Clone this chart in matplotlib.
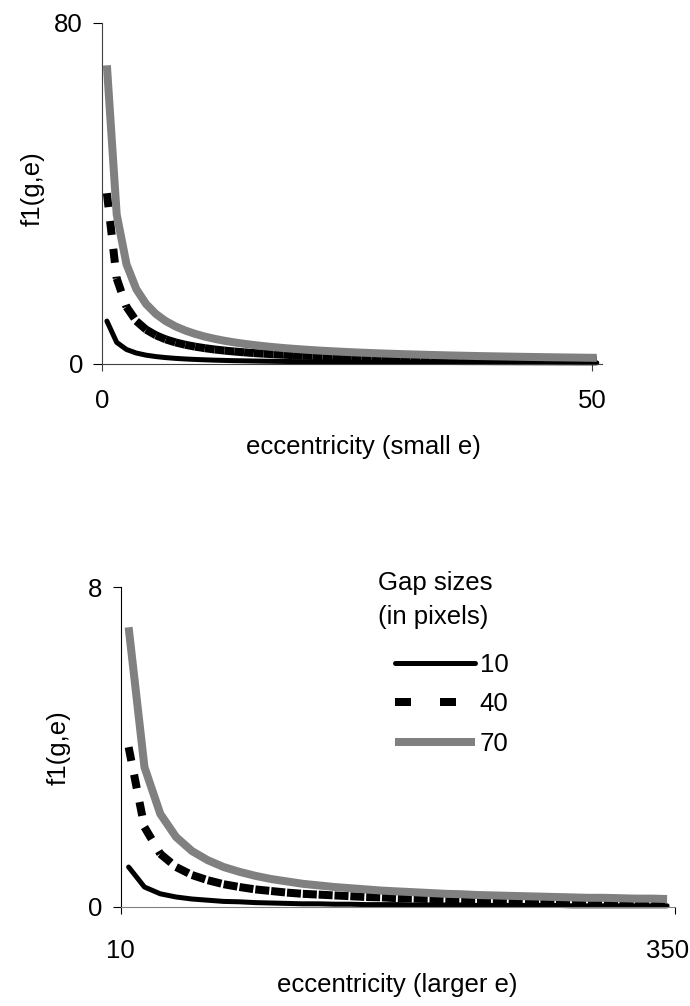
"""f1(g,e) against eccentricity for three gap sizes, small and larger e."""

import matplotlib
matplotlib.use("Agg")
import matplotlib.pyplot as plt
import numpy as np
from matplotlib.collections import LineCollection
from matplotlib.lines import Line2D
from matplotlib.transforms import ScaledTranslation

plt.rcParams["font.family"] = ["Liberation Sans", "DejaVu Sans"]
plt.rcParams["lines.scale_dashes"] = False

GAPS = ["10", "40", "70"]

# small eccentricities, e = 1..51
e_small = list(range(1, 52))
f_small_10 = [10, 5, 3.33, 2.5, 2, 1.67, 1.43, 1.25, 1.11, 1, 0.91, 0.83, 0.77, 0.71,
              0.67, 0.63, 0.59, 0.56, 0.53, 0.5, 0.48, 0.45, 0.43, 0.42, 0.4, 0.38,
              0.37, 0.36, 0.34, 0.33, 0.32, 0.31, 0.3, 0.29, 0.29, 0.28, 0.27, 0.26,
              0.26, 0.25, 0.24, 0.24, 0.23, 0.23, 0.22, 0.22, 0.21, 0.21, 0.2, 0.2, 0.2]
f_small_40 = [40, 20, 13.33, 10, 8, 6.67, 5.71, 5, 4.44, 4, 3.64, 3.33, 3.08, 2.86,
              2.67, 2.5, 2.35, 2.22, 2.11, 2, 1.9, 1.82, 1.74, 1.67, 1.6, 1.54, 1.48,
              1.43, 1.38, 1.33, 1.29, 1.25, 1.21, 1.18, 1.14, 1.11, 1.08, 1.05, 1.03,
              1, 0.98, 0.95, 0.93, 0.91, 0.89, 0.87, 0.85, 0.83, 0.82, 0.8, 0.78]
f_small_70 = [70, 35, 23.33, 17.5, 14, 11.67, 10, 8.75, 7.78, 7, 6.36, 5.83, 5.38, 5,
              4.67, 4.38, 4.12, 3.89, 3.68, 3.5, 3.33, 3.18, 3.04, 2.92, 2.8, 2.69,
              2.59, 2.5, 2.41, 2.33, 2.26, 2.19, 2.12, 2.06, 2, 1.94, 1.89, 1.84, 1.79,
              1.75, 1.71, 1.67, 1.63, 1.59, 1.56, 1.52, 1.49, 1.46, 1.43, 1.4, 1.37]

# larger eccentricities, e = 10..350 in steps of 10
e_large = list(range(10, 360, 10))
f_large_10 = [1, 0.5, 0.33, 0.25, 0.2, 0.17, 0.14, 0.13, 0.11, 0.1, 0.09, 0.08, 0.08,
              0.07, 0.07, 0.06, 0.06, 0.06, 0.05, 0.05, 0.05, 0.05, 0.04, 0.04, 0.04,
              0.04, 0.04, 0.04, 0.03, 0.03, 0.03, 0.03, 0.03, 0.03, 0.03]
f_large_40 = [4, 2, 1.33, 1, 0.8, 0.67, 0.57, 0.5, 0.44, 0.4, 0.36, 0.33, 0.31, 0.29,
              0.27, 0.25, 0.24, 0.22, 0.21, 0.2, 0.19, 0.18, 0.17, 0.17, 0.16, 0.15,
              0.15, 0.14, 0.14, 0.13, 0.13, 0.13, 0.12, 0.12, 0.11]
f_large_70 = [7, 3.5, 2.33, 1.75, 1.4, 1.17, 1, 0.88, 0.78, 0.7, 0.64, 0.58, 0.54, 0.5,
              0.47, 0.44, 0.41, 0.39, 0.37, 0.35, 0.33, 0.32, 0.3, 0.29, 0.28, 0.27,
              0.26, 0.25, 0.24, 0.23, 0.23, 0.22, 0.21, 0.21, 0.2]

FS = 18.5
PX = 0.72  # points per pixel at dpi 100
W, H = 690, 1006

BLACK_LW = 5 * PX
THICK_LW = 8 * PX
GREY = "#808080"


def dashed(ax, x, y):
    # every segment restarts its dash pattern
    pts = np.column_stack([x, y])
    segs = np.stack([pts[:-1], pts[1:]], axis=1)
    lc = LineCollection(segs, colors="black", linewidths=THICK_LW,
                        linestyles=[(0, (14 * PX, 14 * PX))], capstyle="butt",
                        zorder=3, clip_on=False)
    ax.add_collection(lc)


def draw_panel(ax, x, y10, y40, y70):
    ax.plot(x, y10, color="black", lw=BLACK_LW, solid_capstyle="round",
            solid_joinstyle="round", zorder=2, clip_on=False)
    dashed(ax, x, y40)
    ax.plot(x, y70, color=GREY, lw=THICK_LW, solid_capstyle="butt", zorder=4,
            clip_on=False)
    ax.spines[["top", "right"]].set_visible(False)


def axes_px(left, top, right, bottom):
    return fig.add_axes([left / W, 1 - bottom / H, (right - left) / W, (bottom - top) / H])


fig = plt.figure(figsize=(W / 100, H / 100), dpi=100)

# top panel
ax1 = axes_px(102, 22.7, 601.7, 363.7)
draw_panel(ax1, e_small, f_small_10, f_small_40, f_small_70)
ax1.set_xlim(0.5, 51.5)
ax1.set_ylim(0, 80)
ax1.set_xticks([0.5, 50.5], ["0", "50"])
ax1.set_yticks([0, 80], ["0", "80"])
ax1.spines["left"].set_color("#404040")
ax1.spines["bottom"].set_color("#404040")
ax1.tick_params(axis="x", length=7 * PX, color="#404040", pad=18 * PX, labelsize=FS)
ax1.tick_params(axis="y", length=9 * PX, color="black", pad=10 * PX, labelsize=FS)
fig.text(33 / W, 1 - 189 / H, "f1(g,e)", rotation=90, ha="center", va="center", fontsize=FS)
fig.text(363 / W, 1 - 447 / H, "eccentricity (small e)", ha="center", va="center", fontsize=FS)

# bottom panel
ax2 = axes_px(120.7, 587.3, 675, 907)
draw_panel(ax2, e_large, f_large_10, f_large_40, f_large_70)
ax2.set_xlim(5, 355)
ax2.set_ylim(0, 8)
ax2.set_xticks([5, 355], ["10", "350"])
ax2.set_yticks([0, 8], ["0", "8"])
ax2.spines["left"].set_color("black")
ax2.spines["bottom"].set_color(GREY)
ax2.tick_params(axis="x", length=7 * PX, color="black", pad=25 * PX, labelsize=FS)
ax2.tick_params(axis="y", length=8 * PX, color="black", pad=10 * PX, labelsize=FS)
# keep the last label inside the figure
last = ax2.get_xticklabels()[-1]
last.set_transform(last.get_transform() + ScaledTranslation(-0.07, 0, fig.dpi_scale_trans))
fig.text(59 / W, 1 - 748 / H, "f1(g,e)", rotation=90, ha="center", va="center", fontsize=FS)
fig.text(397 / W, 1 - 985 / H, "eccentricity (larger e)", ha="center", va="center", fontsize=FS)

# legend
fig.text(378 / W, 1 - 571 / H, "Gap sizes\n(in pixels)", ha="left", va="top",
         fontsize=FS, linespacing=1.55)
handles = [
    Line2D([], [], color="black", lw=BLACK_LW, solid_capstyle="round"),
    Line2D([], [], color="black", lw=THICK_LW, dashes=(16 * PX, 29 * PX),
           dash_capstyle="butt"),
    Line2D([], [], color=GREY, lw=THICK_LW, solid_capstyle="butt"),
]
ax2.legend(handles, GAPS, loc="upper left", bbox_to_anchor=(395 / W, 1 - 653 / H),
           bbox_transform=fig.transFigure, frameon=False, fontsize=FS,
           borderpad=0, borderaxespad=0, handlelength=3.1, handletextpad=0.2,
           labelspacing=0.6)

fig.savefig("out.png", dpi=100)
